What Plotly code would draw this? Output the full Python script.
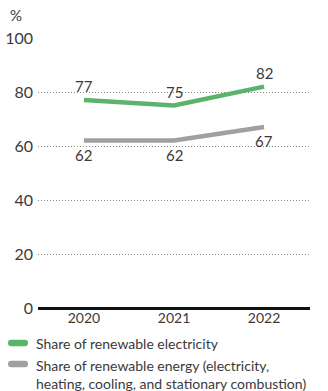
import plotly.graph_objects as go

years = ["2020", "2021", "2022"]
electricity = [77, 75, 82]
energy = [62, 62, 67]
y_ticks = [0, 20, 40, 60, 80, 100]
legend_names = ["Share of renewable electricity",
                "Share of renewable energy (electricity,<br>heating, cooling, and stationary combustion)"]

GREEN = "#5cb46c"
GRAY = "#a0a0a0"
FONT = "Lato"
TXT = "#3a3a3a"

W, H = 328, 391
ML, MR, MT, MB = 38, 18, 38, 83

fig = go.Figure()
fig.add_trace(go.Scatter(x=[0, 1, 2], y=electricity, mode="lines",
                         line=dict(color=GREEN, width=4.5), showlegend=False))
fig.add_trace(go.Scatter(x=[0, 1, 2], y=energy, mode="lines",
                         line=dict(color=GRAY, width=4.5), showlegend=False))

for i, v in enumerate(electricity):
    fig.add_annotation(x=i, y=v, text=str(v), showarrow=False, yanchor="middle", yshift=14,
                       font=dict(family=FONT, size=15, color=TXT))
for i, v in enumerate(energy):
    fig.add_annotation(x=i, y=v, text=str(v), showarrow=False, yanchor="middle", yshift=-14,
                       font=dict(family=FONT, size=15, color=TXT))

fig.update_layout(
    width=W, height=H, margin=dict(l=ML, r=MR, t=MT, b=MB, autoexpand=False),
    paper_bgcolor="white", plot_bgcolor="white",
    font=dict(family=FONT, color=TXT),
    showlegend=False,
    xaxis=dict(range=[-0.51, 2.51], tickmode="array", tickvals=[0, 1, 2], ticktext=years,
               showgrid=False, zeroline=False, showline=False, ticks="", automargin=False,
               tickfont=dict(family=FONT, size=14, color=TXT), fixedrange=True),
    yaxis=dict(range=[0, 100], tickvals=y_ticks, showgrid=True, gridcolor="#888888",
               griddash="1px,2px", gridwidth=1, zeroline=True, zerolinecolor="#111111",
               zerolinewidth=3, showline=False, ticks="", ticklabelstandoff=4, automargin=False,
               tickfont=dict(family=FONT, size=16, color=TXT), fixedrange=True),
)

pw = W - ML - MR
ph = H - MT - MB

def px_x(x):
    return (x - ML) / pw

def px_y(y):
    return (H - MB - y) / ph

fig.add_annotation(text="%", xref="paper", yref="paper", x=px_x(8), xanchor="left",
                   y=px_y(15), yanchor="middle", showarrow=False,
                   font=dict(family=FONT, size=15, color=TXT))

def pill(xc, yc, w, h, color):
    r = h / 2
    a = w / 2 - r
    path = (f"M {-a},{-r} L {a},{-r} Q {a + r},{-r} {a + r},0 Q {a + r},{r} {a},{r} "
            f"L {-a},{r} Q {-a - r},{r} {-a - r},0 Q {-a - r},{-r} {-a},{-r} Z")
    fig.add_shape(type="path", xref="paper", yref="paper", xsizemode="pixel", ysizemode="pixel",
                  xanchor=px_x(xc), yanchor=px_y(yc), path=path,
                  fillcolor=color, line=dict(width=0))

pill(18, 343, 20, 6.5, GREEN)
pill(18, 364, 20, 6.5, GRAY)
fig.add_annotation(text=legend_names[0], xref="paper", yref="paper", x=px_x(34), y=px_y(343),
                   xanchor="left", yanchor="middle", showarrow=False, align="left",
                   font=dict(family=FONT, size=14, color=TXT))
fig.add_annotation(text=legend_names[1], xref="paper", yref="paper", x=px_x(34), y=px_y(355),
                   xanchor="left", yanchor="top", showarrow=False, align="left",
                   font=dict(family=FONT, size=14, color=TXT))

fig.write_html("out.html", config={"displayModeBar": False})
